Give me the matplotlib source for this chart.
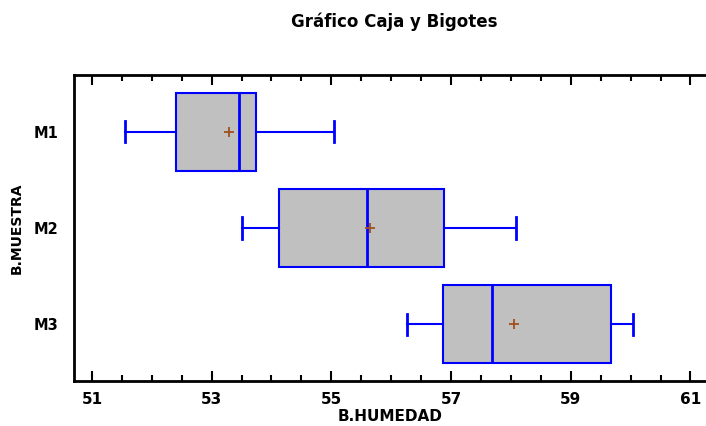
import matplotlib
matplotlib.use("Agg")
import matplotlib.pyplot as plt
from matplotlib.ticker import MultipleLocator

plt.rcParams['font.family'] = ['DejaVu Sans']

# -----------------------------
# Data
# -----------------------------
groups = ["M1", "M2", "M3"]
whisker_lo = [51.55, 53.51, 56.26]
q1 = [52.40, 54.13, 56.87]
medians = [53.45, 55.60, 57.69]
q3 = [53.74, 56.88, 59.68]
whisker_hi = [55.04, 58.08, 60.04]
means = [53.29, 55.64, 58.05]
x_ticks = [51, 53, 55, 57, 59, 61]

stats = []
for i, g in enumerate(groups):
    stats.append({
        "label": g, "whislo": whisker_lo[i], "q1": q1[i], "med": medians[i],
        "q3": q3[i], "whishi": whisker_hi[i], "mean": means[i], "fliers": [],
    })

fig = plt.figure(figsize=(7.06, 4.26), dpi=100)
ax = fig.add_axes([0.1048, 0.1056, 0.8952, 0.7183])

blue = "#0000FF"
ax.bxp(stats, positions=[1, 2, 3], vert=False, widths=0.81, patch_artist=True,
       showmeans=True, showfliers=False,
       boxprops=dict(facecolor="#C0C0C0", edgecolor=blue, linewidth=1.5),
       medianprops=dict(color=blue, linewidth=2),
       whiskerprops=dict(color=blue, linewidth=1.5),
       capprops=dict(color=blue, linewidth=2),
       meanprops=dict(marker="+", markeredgecolor="#A0501E", markersize=6.5,
                      markeredgewidth=1.3, linestyle="none"),
       capwidths=0.22)

ax.set_xlim(50.70, 61.26)
ax.set_ylim(3.59, 0.41)
ax.set_xticks(x_ticks)
ax.xaxis.set_minor_locator(MultipleLocator(0.5))
ax.set_yticks([1, 2, 3])
ax.set_yticklabels(groups, fontsize=10.5, fontweight="bold")
ax.tick_params(axis="y", length=0, pad=11)
ax.tick_params(axis="x", which="major", direction="in", length=7, width=1.5,
               top=True, labelsize=11, pad=8)
ax.tick_params(axis="x", which="minor", direction="in", length=4, width=1.5,
               top=True)
for lbl in ax.get_xticklabels():
    lbl.set_fontweight("bold")

for side in ["left", "top", "bottom"]:
    ax.spines[side].set_linewidth(2)
ax.spines["right"].set_visible(False)

ax.set_xlabel("B.HUMEDAD", fontsize=11, fontweight="bold", labelpad=1)
ax.set_ylabel("B.MUESTRA", fontsize=10, fontweight="bold", labelpad=7)
fig.text(0.558, 0.948, "Gráfico Caja y Bigotes", ha="center", va="center",
         fontsize=12, fontweight="bold")

plt.savefig("out.png", dpi=100)
